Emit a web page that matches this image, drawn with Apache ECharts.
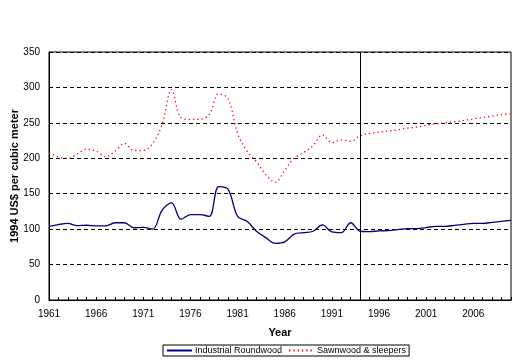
<!DOCTYPE html>
<html>
<head>
<meta charset="utf-8">
<script src="https://cdn.jsdelivr.net/npm/echarts@6/dist/echarts.min.js"></script>
<style>
html,body{margin:0;padding:0;background:#fff;}
#chart{width:532px;height:364px;}
</style>
</head>
<body>
<div id="chart"></div>
<script>
var years = [];
for (var y = 1961; y <= 2010; y++) years.push(String(y));

var industrialRoundwood = [
  104, 106.5, 108, 105, 105.5, 104.5, 104.5, 109, 109, 102,
  102.5, 100, 127, 137, 114, 120.5, 120.5, 118, 160, 156,
  118, 111, 97, 88, 80, 82, 93, 95, 97, 106,
  96, 95, 109, 97, 96.5, 97.5, 98, 99.4, 100.8, 100.8,
  102.2, 104, 104, 105.4, 106.8, 108.2, 108.2, 109.6, 111, 112.4
];

var sawnwoodSleepers = [
  208, 202, 200, 206, 213, 210, 202, 210, 221, 211,
  211, 221, 248, 297, 257, 255, 255, 262, 291, 284,
  235, 210, 195, 177, 166, 183, 200, 208, 218, 233,
  222, 226, 224, 232, 235, 237, 238.5, 240, 242.5, 244,
  246.5, 248.5, 250, 251.5, 253.5, 255.5, 257.5, 259.5, 261.5, 263
];

var seriesNames = ['Industrial Roundwood', 'Sawnwood & sleepers'];
var dividerYear = '1994';
var yMin = 0, yMax = 350, yStep = 50;

var FONT = '"Liberation Sans", Arial, sans-serif';
var chart = echarts.init(document.getElementById('chart'), null, {renderer: 'canvas'});

chart.setOption({
  animation: false,
  backgroundColor: '#ffffff',
  textStyle: {fontFamily: FONT, color: '#000'},
  grid: {
    left: 49, right: 21, top: 52, bottom: 64,
    containLabel: false,
    outerBoundsMode: 'none',
    show: true, borderColor: '#000', borderWidth: 1, backgroundColor: 'transparent'
  },
  legend: {
    data: seriesNames,
    left: 163, top: 345,
    orient: 'horizontal',
    borderColor: '#000', borderWidth: 1,
    padding: [1, 3, 1, 3],
    itemGap: 6, itemWidth: 25, itemHeight: 8,
    itemStyle: {opacity: 0},
    textStyle: {fontFamily: FONT, fontSize: 9, color: '#000', padding: [0, 0, 0, -2]}
  },
  xAxis: {
    type: 'category',
    data: years,
    boundaryGap: false,
    name: 'Year',
    nameLocation: 'middle',
    nameGap: 27,
    nameMoveOverlap: false,
    nameTextStyle: {fontFamily: FONT, fontSize: 11, fontWeight: 'bold', color: '#000'},
    axisLine: {lineStyle: {color: '#000', width: 1}},
    axisTick: {show: true, inside: true, length: 3, interval: 0, lineStyle: {color: '#000'}},
    axisLabel: {interval: 4, margin: 9, fontFamily: FONT, fontSize: 10, color: '#000'},
    splitLine: {show: false}
  },
  yAxis: {
    type: 'value',
    min: yMin, max: yMax, interval: yStep,
    name: '1994 US$ per cubic meter',
    nameLocation: 'middle',
    nameGap: 29,
    nameMoveOverlap: false,
    nameTextStyle: {fontFamily: FONT, fontSize: 11, fontWeight: 'bold', color: '#000'},
    axisLine: {show: true, lineStyle: {color: '#000', width: 1}},
    axisTick: {show: false},
    axisLabel: {margin: 9, fontFamily: FONT, fontSize: 10, color: '#000'},
    splitLine: {show: true, lineStyle: {color: '#000', type: [4, 3], width: 1}}
  },
  series: [
    {
      name: seriesNames[0],
      type: 'line',
      data: industrialRoundwood,
      symbol: 'none',
      smooth: 0.35,
      lineStyle: {color: '#000080', width: 1.3},
      itemStyle: {color: '#000080'},
      markLine: {
        silent: true,
        symbol: ['none', 'none'],
        label: {show: false},
        lineStyle: {color: '#000', type: 'solid', width: 1},
        data: [{xAxis: dividerYear}]
      }
    },
    {
      name: seriesNames[1],
      type: 'line',
      data: sawnwoodSleepers,
      symbol: 'none',
      smooth: 0.35,
      lineStyle: {color: '#ff0000', width: 1.3, type: [1.3, 3]},
      itemStyle: {color: '#ff0000'}
    }
  ]
});
</script>
</body>
</html>
